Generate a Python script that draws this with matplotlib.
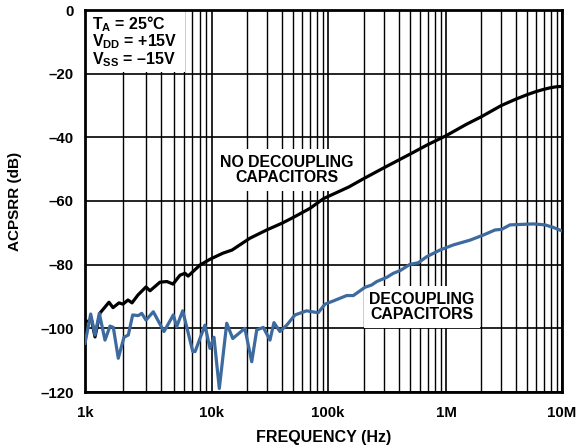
#!/usr/bin/env python3

import numpy as np
import matplotlib
matplotlib.use("Agg")
import matplotlib.pyplot as plt
from matplotlib.patches import Rectangle
from matplotlib.ticker import FixedLocator, FixedFormatter, NullFormatter

# no decoupling capacitors (Hz, dB)
freq_nodec = [1000, 1129, 1199, 1312, 1545, 1662, 1852, 1991, 2180, 2345,
              2615, 3022, 3250, 3895, 4420, 4930, 5600, 6130, 6480, 8050,
              9640, 12400, 14900, 21200, 30000, 40000, 50000, 70000, 92000,
              150000, 200000, 300000, 500000, 700000, 1000000, 1500000,
              2000000, 3000000, 4000000, 5000000, 6000000, 7000000, 8000000,
              9000000, 10000000]
acpsrr_nodec = [-97.9, -97.6, -102.7, -95.2, -91.8, -93.5, -92.0, -92.4, -91.1, -92.0,
                -89.5, -87.0, -88.2, -85.5, -85.3, -86.1, -83.3, -82.7, -83.6, -80.1,
                -78.3, -76.4, -75.4, -71.7, -69.0, -67.0, -65.2, -62.3, -59.2,
                -55.6, -53.0, -49.5, -45.2, -42.3, -39.5, -35.9,
                -33.6, -30.0, -28.0, -26.6, -25.6, -24.9, -24.4,
                -24.1, -24.0]

# with decoupling capacitors (Hz, dB)
freq_dec = [1000, 1109, 1199, 1296, 1437, 1574, 1671, 1828, 2028, 2193,
            2373, 2626, 2797, 3021, 3450, 4188, 4960, 5270, 5880, 7060,
            7360, 8800, 9640, 10400, 11560, 13400, 15100, 19200, 22000,
            24300, 27700, 31600, 34200, 38500, 44100, 51900, 65400, 82300,
            94200, 110900, 144000, 164000, 206000, 234000, 259000, 314000,
            358000, 407000, 495000, 582000, 686000, 889000, 1156000, 1610000,
            2095000, 2645000, 3020000, 3560000, 5660000, 7140000, 8420000,
            10000000]
acpsrr_dec = [-104.7, -95.5, -102.1, -95.3, -103.7, -99.3, -99.7, -109.4, -102.8, -102.1,
              -95.8, -96.0, -95.3, -97.4, -94.8, -101.0, -95.8, -99.5, -94.5, -107.3,
              -107.3, -99.0, -106.3, -102.8, -118.9, -98.4, -103.2, -100.0, -110.5,
              -100.5, -99.7, -103.7, -98.2, -101.0, -99.0, -95.8, -94.5, -95.1,
              -92.4, -91.4, -89.7, -89.7, -87.1, -86.4, -85.3, -84.0,
              -82.7, -81.9, -79.9, -79.4, -77.5, -75.4, -73.8, -72.3,
              -70.7, -69.1, -68.9, -67.5, -67.2, -67.5, -68.3,
              -69.4]

xticks = [1e3, 1e4, 1e5, 1e6, 1e7]
xtick_labels = ['1k', '10k', '100k', '1M', '10M']
yticks = [0, -20, -40, -60, -80, -100, -120]
ytick_labels = ['0', '\u201320', '\u201340', '\u201360', '\u201380', '\u2013100', '\u2013120']

# the original chart's decades are not all the same width (first one is wider)
decade_logs = [3, 4, 5, 6, 7]
decade_pos = [0, 127, 243, 361, 477]

plt.rcParams['font.family'] = ['Liberation Sans', 'DejaVu Sans']
plt.rcParams['font.weight'] = 'bold'
plt.rcParams['mathtext.fontset'] = 'custom'
plt.rcParams['mathtext.rm'] = 'Liberation Sans:bold'
plt.rcParams['mathtext.bf'] = 'Liberation Sans:bold'
plt.rcParams['mathtext.default'] = 'rm'


def fwd(f):
    f = np.clip(np.asarray(f, dtype=float), 1e-3, None)
    return np.interp(np.log10(f), decade_logs, decade_pos,
                     left=-1e4, right=1e4)


def inv(p):
    p = np.asarray(p, dtype=float)
    return 10 ** np.interp(p, decade_pos, decade_logs)


def main():
    fig = plt.figure(figsize=(5.88, 4.48), dpi=100)
    ax = fig.add_axes([85/588, 56/448, 477/588, 382/448])

    ax.plot(freq_nodec, acpsrr_nodec, color='black', lw=2.3, zorder=3)
    ax.plot(freq_dec, acpsrr_dec, color='#3d6a9f', lw=2.3, zorder=3)

    ax.set_xscale('function', functions=(fwd, inv))
    ax.set_xlim(1e3, 1e7)
    ax.set_ylim(-120, 0)

    minor = [m * d for d in [1e3, 1e4, 1e5, 1e6] for m in range(2, 10)]
    ax.xaxis.set_major_locator(FixedLocator(xticks))
    ax.xaxis.set_major_formatter(FixedFormatter(xtick_labels))
    ax.xaxis.set_minor_locator(FixedLocator(minor))
    ax.xaxis.set_minor_formatter(NullFormatter())
    ax.yaxis.set_major_locator(FixedLocator(yticks))
    ax.yaxis.set_major_formatter(FixedFormatter(ytick_labels))

    ax.grid(True, which='major', color='black', lw=1.2)
    ax.grid(True, which='minor', axis='x', color='black', lw=1.0)
    ax.set_axisbelow(True)
    ax.tick_params(which='both', length=0, labelsize=10.8)
    ax.tick_params(axis='x', pad=10)
    ax.tick_params(axis='y', pad=8)
    for s in ax.spines.values():
        s.set_linewidth(2.0)

    ax.set_xlabel('FREQUENCY (Hz)', fontsize=11.5, fontweight='bold', labelpad=7)
    ax.set_ylabel('ACPSRR (dB)', fontsize=11, fontweight='bold', labelpad=13)

    # white area behind the conditions text
    ax.add_patch(Rectangle((0, 0.838), 0.21, 0.162, transform=ax.transAxes,
                           facecolor='white', edgecolor='none', zorder=2))
    ax.text(0.015, 0.9503, 'T$_\\mathrm{A}$ = 25\u00b0C', transform=ax.transAxes,
            fontsize=11.5, fontweight='bold', va='baseline', zorder=4)
    ax.text(0.015, 0.9045, 'V$_\\mathrm{DD}$ = +15V', transform=ax.transAxes,
            fontsize=11.5, fontweight='bold', va='baseline', zorder=4)
    ax.text(0.015, 0.8586, 'V$_\\mathrm{SS}$ = \u201315V', transform=ax.transAxes,
            fontsize=11.5, fontweight='bold', va='baseline', zorder=4)

    box = dict(facecolor='white', edgecolor='none', pad=4)
    ax.text(0.4235, 0.581, 'NO DECOUPLING\nCAPACITORS', transform=ax.transAxes,
            fontsize=11.4, fontweight='bold', ha='center', va='center',
            linespacing=1.05, bbox=box, zorder=2.5)
    ax.text(0.7065, 0.2225, 'DECOUPLING\nCAPACITORS', transform=ax.transAxes,
            fontsize=11.4, fontweight='bold', ha='center', va='center',
            linespacing=1.05, bbox=box, zorder=2.5)

    fig.savefig('out.png', dpi=100)


if __name__ == '__main__':
    main()
